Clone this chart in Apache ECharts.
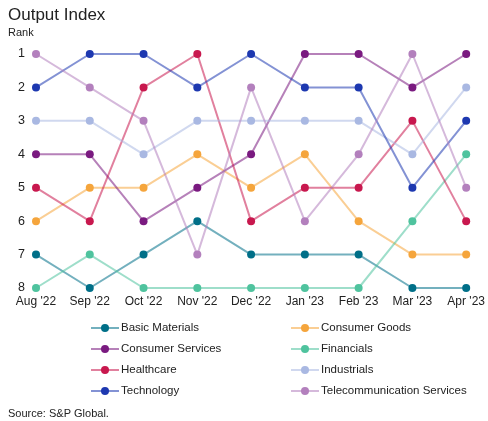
<!DOCTYPE html>
<html>
<head>
<meta charset="utf-8">
<script src="https://cdn.jsdelivr.net/npm/echarts@6/dist/echarts.min.js"></script>
<style>
  html, body { margin: 0; padding: 0; background: #fff; }
  #chart { width: 488px; height: 421px; }
</style>
</head>
<body>
<div id="chart"></div>
<script>
// 月份
const months = ["Aug '22", "Sep '22", "Oct '22", "Nov '22", "Dec '22", "Jan '23", "Feb '23", "Mar '23", "Apr '23"]
const rankTicks = [1, 2, 3, 4, 5, 6, 7, 8]

// 各行业排名
const basicMaterials = [7, 8, 7, 6, 7, 7, 7, 8, 8]
const consumerGoods = [6, 5, 5, 4, 5, 4, 6, 7, 7]
const consumerServices = [4, 4, 6, 5, 4, 1, 1, 2, 1]
const financials = [8, 7, 8, 8, 8, 8, 8, 6, 4]
const healthcare = [5, 6, 2, 1, 6, 5, 5, 3, 6]
const industrials = [3, 3, 4, 3, 3, 3, 3, 4, 2]
const technology = [2, 1, 1, 2, 1, 2, 2, 5, 3]
const telecom = [1, 2, 3, 7, 2, 6, 4, 1, 5]

const seriesList = [
  { name: 'Basic Materials', values: basicMaterials, color: '#006f88' },
  { name: 'Consumer Goods', values: consumerGoods, color: '#f5a53c' },
  { name: 'Consumer Services', values: consumerServices, color: '#7a1a80' },
  { name: 'Financials', values: financials, color: '#4fc39e' },
  { name: 'Healthcare', values: healthcare, color: '#c8184e' },
  { name: 'Industrials', values: industrials, color: '#a9b8e2' },
  { name: 'Technology', values: technology, color: '#1d38b0' },
  { name: 'Telecommunication Services', values: telecom, color: '#b380bd' },
]

const font = 'Liberation Sans, Arial, sans-serif'
const chart = echarts.init(document.getElementById('chart'))

const legendCommon = {
  orient: 'vertical',
  top: 317,
  itemGap: 9,
  itemWidth: 28,
  itemHeight: 10,
  textStyle: { fontFamily: font, fontSize: 11.5, color: '#222', padding: [0, 0, 0, -3] },
}

chart.setOption({
  animation: false,
  title: [
    { text: 'Output Index', left: 3, top: 2, textStyle: { fontFamily: font, fontSize: 17, fontWeight: 'normal', color: '#222' } },
    { text: 'Rank', left: 3, top: 22, textStyle: { fontFamily: font, fontSize: 11, fontWeight: 'normal', color: '#222' } },
    { text: 'Source: S&P Global.', left: 3, top: 403, textStyle: { fontFamily: font, fontSize: 11, fontWeight: 'normal', color: '#222' } },
  ],
  legend: [
    { ...legendCommon, left: 85, data: ['Basic Materials', 'Consumer Services', 'Healthcare', 'Technology'] },
    { ...legendCommon, left: 285, data: ['Consumer Goods', 'Financials', 'Industrials', 'Telecommunication Services'] },
  ],
  grid: { left: 36, right: 20, top: 54, bottom: 133 },
  xAxis: {
    type: 'category',
    data: months,
    boundaryGap: false,
    axisLine: { show: false },
    axisTick: { show: false },
    axisLabel: { fontFamily: font, fontSize: 12, color: '#222', margin: 8 },
  },
  yAxis: {
    type: 'value',
    inverse: true,
    min: 1,
    max: 8,
    interval: 1,
    axisLine: { show: false },
    axisTick: { show: false },
    splitLine: { show: false },
    axisLabel: { fontFamily: font, fontSize: 12.5, color: '#222', margin: 11, formatter: (v) => rankTicks.includes(v) ? String(v) : '' },
  },
  series: seriesList.map((s) => ({
    name: s.name,
    type: 'line',
    data: s.values,
    symbol: 'circle',
    symbolSize: 8,
    color: s.color,
    lineStyle: { width: 2, opacity: 0.55 },
    itemStyle: { color: s.color },
  })),
})
</script>
</body>
</html>
